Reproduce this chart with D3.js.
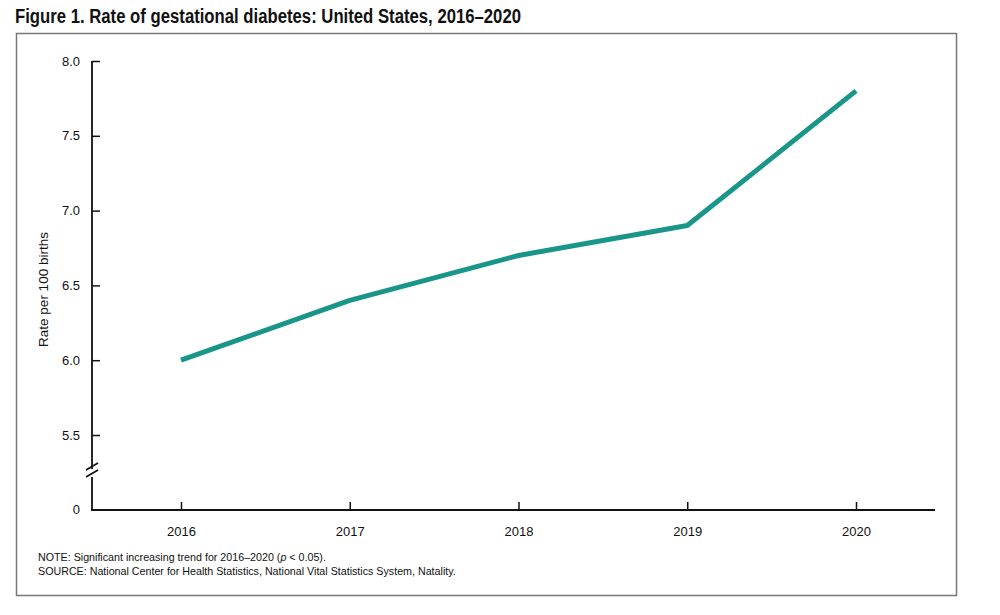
<!DOCTYPE html>
<html>
<head>
<meta charset="utf-8">
<script src="https://cdn.jsdelivr.net/npm/d3@7"></script>
<style>
  body { margin: 0; background: #fff; }
  svg { display: block; }
</style>
</head>
<body>
<div id="chart"></div>
<script>
// data
const years = [2016, 2017, 2018, 2019, 2020];
const rates = [6.0, 6.4, 6.7, 6.9, 7.8];
const yTicks = [5.5, 6.0, 6.5, 7.0, 7.5, 8.0];
const titleText = "Figure 1. Rate of gestational diabetes: United States, 2016\u20132020";
const yLabel = "Rate per 100 births";

const width = 1000, height = 615;
const svg = d3.select('#chart').append('svg')
    .attr('width', width)
    .attr('height', height)
    .attr('font-family', 'Liberation Sans, Arial, sans-serif');

// title - condensed look by squeezing the glyphs
svg.append('text')
    .attr('x', 15)
    .attr('y', 23)
    .attr('font-family', '"Liberation Sans", Arial, sans-serif')
    .attr('font-weight', 'bold')
    .attr('font-size', 20)
    .attr('fill', '#111')
    .attr('textLength', 506)
    .attr('lengthAdjust', 'spacingAndGlyphs')
    .text(titleText);

// frame
svg.append('rect')
    .attr('x', 16.5).attr('y', 33.5)
    .attr('width', 940).attr('height', 562)
    .attr('fill', 'none')
    .attr('stroke', '#777')
    .attr('stroke-width', 1.5);

const x0 = 92, x1 = 935, zeroY = 510;

const x = d3.scalePoint()
    .domain(years)
    .range([181, 856]);

const y = d3.scaleLinear()
    .domain([5.5, 8.0])
    .range([435, 61]);

// y axis (broken)
const yAxis = d3.axisRight(y)
    .tickValues(yTicks)
    .tickFormat(d3.format('.1f'))
    .tickSize(8)
    .tickPadding(0);

const gy = svg.append('g')
    .attr('transform', `translate(${x0},0)`)
    .call(yAxis);
gy.select('.domain').remove();
gy.selectAll('line').attr('stroke', '#111').attr('stroke-width', 1.5);
gy.selectAll('text')
    .attr('x', -12)
    .attr('text-anchor', 'end')
    .attr('font-size', 13)
    .attr('fill', '#111');

// zero tick label
svg.append('text')
    .attr('x', x0 - 12)
    .attr('y', zeroY)
    .attr('dy', '0.32em')
    .attr('text-anchor', 'end')
    .attr('font-size', 13)
    .attr('fill', '#111')
    .text('0');

// axis line segments with break
const axisStroke = g => g.attr('stroke', '#111').attr('stroke-width', 1.8).attr('fill', 'none');
svg.append('line').attr('x1', x0).attr('x2', x0).attr('y1', y(8.0)).attr('y2', 469).call(axisStroke);
svg.append('line').attr('x1', x0).attr('x2', x0).attr('y1', 477).attr('y2', zeroY).call(axisStroke);
[0, 7].forEach(off => {
    svg.append('line')
        .attr('x1', x0 - 6).attr('y1', 470 + off)
        .attr('x2', x0 + 6).attr('y2', 463 + off)
        .call(axisStroke);
});

// x axis
const xAxis = d3.axisTop(x)
    .tickSize(8)
    .tickFormat(d => d);
const gx = svg.append('g')
    .attr('transform', `translate(0,${zeroY})`)
    .call(xAxis);
gx.select('.domain').remove();
gx.selectAll('line').attr('stroke', '#111').attr('stroke-width', 1.5);
gx.selectAll('text')
    .attr('y', 17)
    .attr('dy', '0.71em')
    .attr('font-size', 13)
    .attr('fill', '#111');
svg.append('line').attr('x1', x0 - 0.9).attr('x2', x1).attr('y1', zeroY).attr('y2', zeroY).call(axisStroke);

// y label
svg.append('text')
    .attr('transform', `translate(48,${(y(8.0) + zeroY) / 2 + 4}) rotate(-90)`)
    .attr('text-anchor', 'middle')
    .attr('font-size', 13.5)
    .attr('fill', '#111')
    .text(yLabel);

// line
const line = d3.line()
    .x((d, i) => x(years[i]))
    .y(d => y(d));
svg.append('path')
    .datum(rates)
    .attr('d', line)
    .attr('fill', 'none')
    .attr('stroke', '#1a958a')
    .attr('stroke-width', 5)
    .attr('stroke-linejoin', 'round');

// notes
const note = svg.append('text')
    .attr('x', 38)
    .attr('y', 561)
    .attr('font-size', 10.7)
    .attr('fill', '#111');
note.append('tspan').text('NOTE: Significant increasing trend for 2016\u20132020 (');
note.append('tspan').attr('font-style', 'italic').text('p');
note.append('tspan').text(' < 0.05).');
svg.append('text')
    .attr('x', 38)
    .attr('y', 575)
    .attr('font-size', 10.7)
    .attr('fill', '#111')
    .text('SOURCE: National Center for Health Statistics, National Vital Statistics System, Natality.');
</script>
</body>
</html>
